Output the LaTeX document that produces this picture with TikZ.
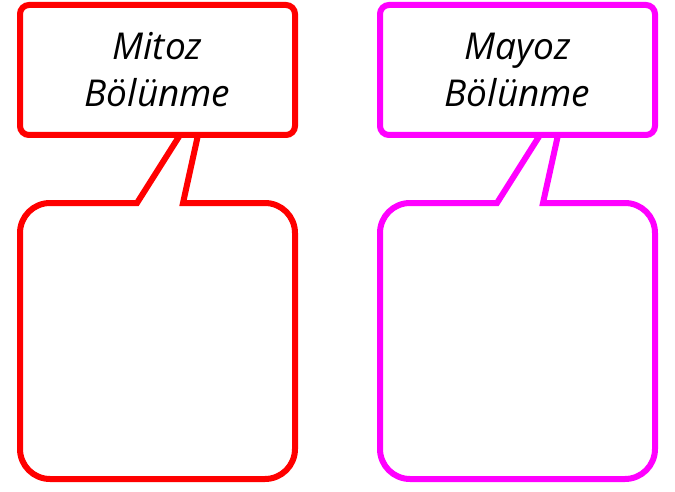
\documentclass[tikz,border=0pt]{standalone}
\usepackage{fontspec}
\setmainfont{Open Sans}
\definecolor{bred}{RGB}{255,0,0}
\definecolor{bmag}{RGB}{255,0,255}
\tikzset{
  titlebox/.style={draw, fill=white, line width=6pt, rounded corners=9pt,
    minimum width=275pt, minimum height=130pt, inner sep=0pt, align=center,
    text=black, font=\itshape\fontsize{37}{47}\selectfont},
  bubble/.style={fill=white, line width=6pt, line join=miter}
}
\begin{document}
\begin{tikzpicture}[x=1pt,y=1pt]
\useasboundingbox (0,0) rectangle (675,491);
% left bubble
\coordinate (lt1) at (137,288);
\coordinate (lt2) at (180,356);
\coordinate (lt3) at (198,356);
\coordinate (lt4) at (183,288);
\draw[bubble, draw=bred] (lt4) -- (265,288) arc[start angle=90,end angle=0,radius=30]
  -- (295,42) arc[start angle=0,end angle=-90,radius=30]
  -- (50,12) arc[start angle=-90,end angle=-180,radius=30]
  -- (20,258) arc[start angle=180,end angle=90,radius=30]
  -- (lt1) -- (lt2) -- (lt3) -- cycle;
\node[titlebox, draw=bred] (mitoz) at (157.5,421) {Mitoz\\Bölünme};
% right bubble
\coordinate (rt1) at (497,288);
\coordinate (rt2) at (540,356);
\coordinate (rt3) at (558,356);
\coordinate (rt4) at (543,288);
\draw[bubble, draw=bmag] (rt4) -- (625,288) arc[start angle=90,end angle=0,radius=30]
  -- (655,42) arc[start angle=0,end angle=-90,radius=30]
  -- (410,12) arc[start angle=-90,end angle=-180,radius=30]
  -- (380,258) arc[start angle=180,end angle=90,radius=30]
  -- (rt1) -- (rt2) -- (rt3) -- cycle;
\node[titlebox, draw=bmag] (mayoz) at (517.5,421) {Mayoz\\Bölünme};
\end{tikzpicture}
\end{document}
